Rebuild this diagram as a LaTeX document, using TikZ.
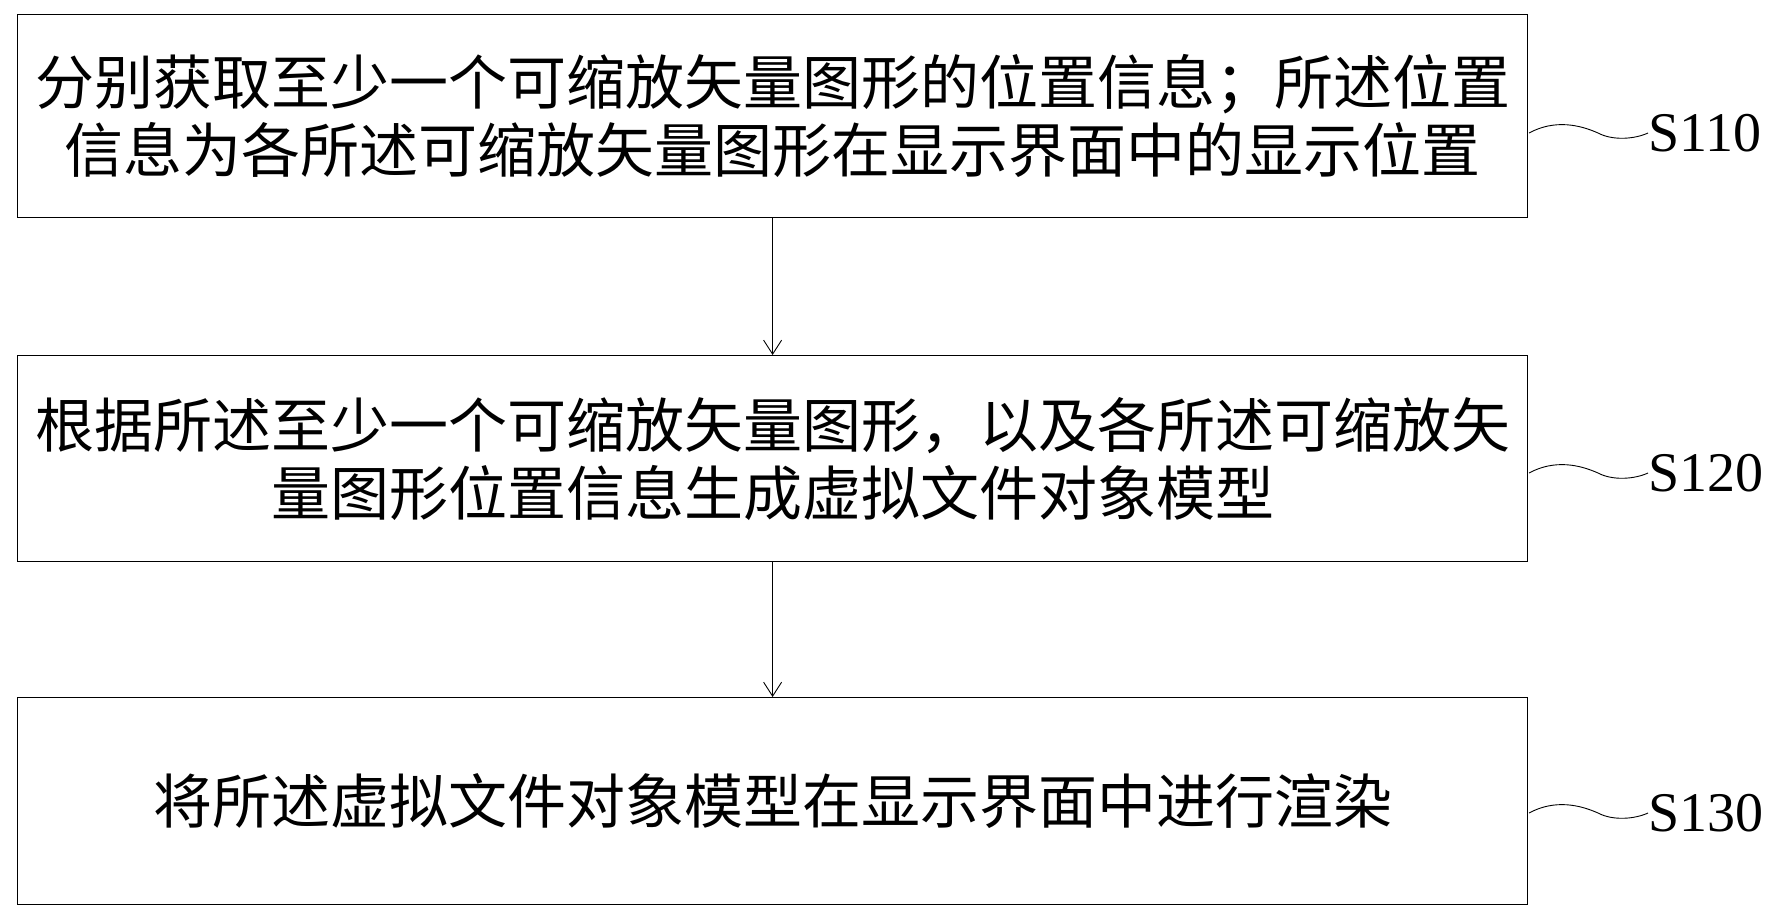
\documentclass[tikz,border=0pt]{standalone}
\usetikzlibrary{arrows.meta}
\usepackage{fontspec}
\setmainfont{Liberation Serif}
\newfontfamily\cjk{Noto Sans CJK SC}
\begin{document}
\begin{tikzpicture}[x=1pt,y=-1pt,
  stepbox/.style={draw,line width=1.2pt,minimum width=1510pt,anchor=north west,inner sep=0pt,align=center,font=\cjk\fontsize{59}{68}\selectfont},
  lbl/.style={font=\fontsize{56}{60}\selectfont},
  conn/.style={draw,line width=0.9pt,-{Straight Barb[length=14pt,width=18pt]}}]
\useasboundingbox (0,0) rectangle (1776,918);
\node[stepbox,minimum height=203pt] (b1) at (17,14) {分别获取至少一个可缩放矢量图形的位置信息；所述位置\\信息为各所述可缩放矢量图形在显示界面中的显示位置};
\node[stepbox,minimum height=206pt] (b2) at (17,355) {根据所述至少一个可缩放矢量图形，以及各所述可缩放矢\\量图形位置信息生成虚拟文件对象模型};
\node[stepbox,minimum height=207pt] (b3) at (17,697) {将所述虚拟文件对象模型在显示界面中进行渲染};
\draw[conn] (b1.south) -- (b2.north);
\draw[conn] (b2.south) -- (b3.north);
\foreach \n/\y/\t in {l1/133/S110,l2/473/S120,l3/813/S130}{
  \node[lbl,anchor=west,inner sep=0pt] (\n) at (1648,\y) {\t};
  \draw[line width=0.9pt] (1529,\y) .. controls (1555,\y-14) and (1580,\y-8) .. (1598,\y) .. controls (1613,\y+8) and (1635,\y+6) .. (\n.west);
}
\end{tikzpicture}
\end{document}
